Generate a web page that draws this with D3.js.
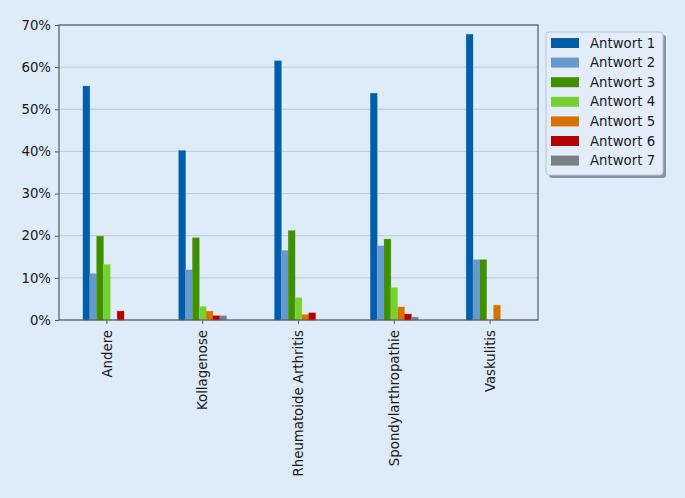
<!DOCTYPE html>
<html><head><meta charset="utf-8">
<script src="https://cdn.jsdelivr.net/npm/d3@7"></script>
<style>
html,body{margin:0;padding:0;background:#deebf8;}
svg{display:block;font-family:"DejaVu Sans",sans-serif;}
</style></head>
<body><svg id="c" width="685" height="498"></svg>
<script>
const categories = ["Andere","Kollagenose","Rheumatoide Arthritis","Spondylarthropathie","Vaskulitis"];
const seriesNames = ["Antwort 1","Antwort 2","Antwort 3","Antwort 4","Antwort 5","Antwort 6","Antwort 7"];
const antwort1 = [55.5, 40.2, 61.5, 53.8, 67.8];
const antwort2 = [11.0, 11.9, 16.5, 17.6, 14.3];
const antwort3 = [19.9, 19.5, 21.2, 19.2, 14.3];
const antwort4 = [13.2, 3.2, 5.3, 7.7, 0];
const antwort5 = [0, 2.1, 1.3, 3.1, 3.5];
const antwort6 = [2.1, 1.0, 1.7, 1.4, 0];
const antwort7 = [0, 1.0, 0, 0.7, 0];
const yTicks = [0,10,20,30,40,50,60,70];
const colors = ["#005ea8","#6699cc","#3f8f00","#77d032","#d97000","#b30000","#7a8084"];

const series = [antwort1,antwort2,antwort3,antwort4,antwort5,antwort6,antwort7];
const svg = d3.select("#c");
const L = 59, R = 538, T = 25, B = 320;
const x = d3.scaleBand().domain(categories).range([L,R]).padding(0);
const y = d3.scaleLinear().domain([0,70]).range([B,T]);
const groupW = x.bandwidth()*0.5;
const xs = d3.scaleBand().domain(seriesNames).range([0,groupW]).padding(0);

// grid
svg.append("g").selectAll("line").data(yTicks).join("line")
  .attr("x1",L).attr("x2",R).attr("y1",d=>y(d)).attr("y2",d=>y(d))
  .attr("stroke","#bfcad6").attr("stroke-width",1);

// bars
const rows = [];
categories.forEach((c,i)=>series.forEach((s,j)=>{ if(s[i]>0) rows.push({c, n:seriesNames[j], v:s[i], col:colors[j]}); }));
svg.append("g").selectAll("rect").data(rows).join("rect")
  .attr("x",d=>x(d.c)+x.bandwidth()/2-groupW/2+xs(d.n))
  .attr("width",xs.bandwidth())
  .attr("y",d=>y(d.v)).attr("height",d=>B-y(d.v))
  .attr("fill",d=>d.col)
  .attr("stroke",d=>d3.color(d.col).brighter(0.5)).attr("stroke-opacity",0.5).attr("stroke-width",0.6);

// axes
const yAxis = svg.append("g").attr("transform",`translate(${L},0)`)
  .call(d3.axisLeft(y).tickValues(yTicks).tickFormat(d=>d+"%").tickSize(4).tickPadding(4));
const xAxis = svg.append("g").attr("transform",`translate(0,${B})`)
  .call(d3.axisBottom(x).tickSize(4).tickPadding(4));
[yAxis,xAxis].forEach(a=>{
  a.select(".domain").remove();
  a.selectAll("line").attr("stroke","#555a5f");
  a.selectAll("text").attr("fill","#1a1a1a").style("font-size","13.3px").style("font-family","DejaVu Sans");
});
xAxis.selectAll("text")
  .attr("transform","rotate(-90)")
  .attr("text-anchor","end")
  .attr("dy","0.35em")
  .attr("x",-10).attr("y",0);

// frame
svg.append("rect").attr("x",L).attr("y",T).attr("width",R-L).attr("height",B-T)
  .attr("fill","none").attr("stroke","#555a5f").attr("stroke-width",1.2);

// legend
const lg = svg.append("g");
const lx = 546, ly = 32, lw = 117, lh = 143;
lg.append("rect").attr("x",lx+3).attr("y",ly+3).attr("width",lw).attr("height",lh).attr("rx",3)
  .attr("fill","#8a929a");
lg.append("rect").attr("x",lx).attr("y",ly).attr("width",lw).attr("height",lh).attr("rx",3)
  .attr("fill","#e2edf9").attr("stroke","#b8c6d4").attr("stroke-width",1);
const items = lg.selectAll("g.it").data(seriesNames).join("g").attr("class","it")
  .attr("transform",(d,i)=>`translate(${lx+5},${ly+11+i*19.6})`);
items.append("rect").attr("x",0).attr("y",-5).attr("width",28).attr("height",10)
  .attr("fill",(d,i)=>colors[i]);
items.append("text").attr("x",39).attr("y",0).attr("dy","0.35em")
  .style("font-size","13.3px").attr("fill","#1a1a1a").text(d=>d);
</script></body></html>
